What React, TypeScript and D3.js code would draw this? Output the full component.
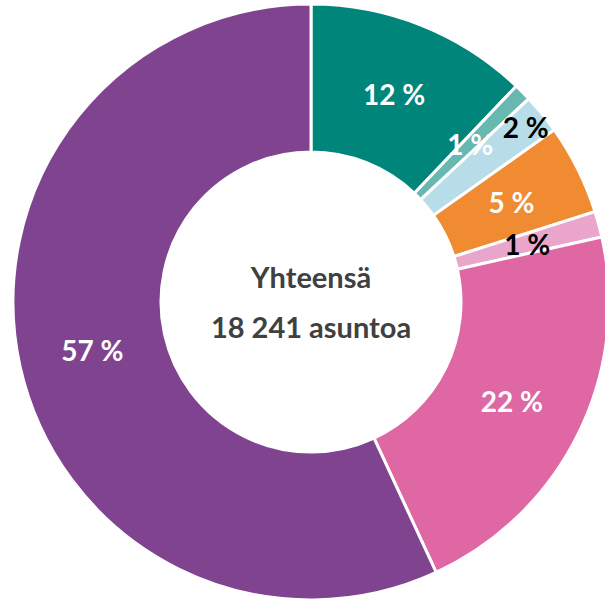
import { useMemo } from 'react'
import * as d3 from 'd3'

// share of dwellings (clockwise from 12 o'clock)
const VALUES = [12.1, 0.95, 2.15, 4.9, 1.4, 21.6, 56.9]
const LABELS = ['12 %', '1 %', '2 %', '5 %', '1 %', '22 %', '57 %']
const COLORS = ['#00857A', '#66B8B1', '#B6DDE8', '#F08B32', '#E9A6CA', '#DF67A3', '#7F4390']
const LABEL_COLORS = ['#fff', '#fff', '#000', '#fff', '#000', '#fff', '#fff']
const CENTER_LINES = ['Yhteensä', '18 241 asuntoa']

const W = 605
const H = 602

export default function App() {
  const cx = 311
  const cy = 302
  const outer = 298
  const inner = 150

  const arcs = useMemo(() => {
    const pie = d3.pie<number>().sort(null).value(d => d)
    return pie(VALUES)
  }, [])

  const arc = d3.arc<d3.PieArcDatum<number>>().innerRadius(inner).outerRadius(outer)
  // the tiny 2 % slice has its label pushed out towards the rim
  const labelArc = (i: number) => {
    const r = i === 2 ? 277 : (inner + outer) / 2
    return d3.arc<d3.PieArcDatum<number>>().innerRadius(r).outerRadius(r)
  }

  return (
    <svg
      width={W}
      height={H}
      style={{ position: 'absolute', left: 0, top: 0, background: '#fff' }}
      fontFamily="Lato, 'Open Sans', sans-serif"
    >
      <g transform={`translate(${cx},${cy})`}>
        {arcs.map((a, i) => (
          <path key={i} d={arc(a) || ''} fill={COLORS[i]} stroke="#fff" strokeWidth={3} strokeLinejoin="round" />
        ))}
        {arcs.map((a, i) => {
          const [x, y] = labelArc(i).centroid(a)
          return (
            <text
              key={i}
              x={x}
              y={y}
              textAnchor="middle"
              dominantBaseline="central"
              fontSize={28}
              fontWeight={700}
              fill={LABEL_COLORS[i]}
            >
              {LABELS[i]}
            </text>
          )
        })}
        {CENTER_LINES.map((t, i) => (
          <text
            key={t}
            x={0}
            y={-26 + i * 50}
            textAnchor="middle"
            dominantBaseline="central"
            fontSize={29}
            fontWeight={700}
            fill="#404040"
          >
            {t}
          </text>
        ))}
      </g>
    </svg>
  )
}
